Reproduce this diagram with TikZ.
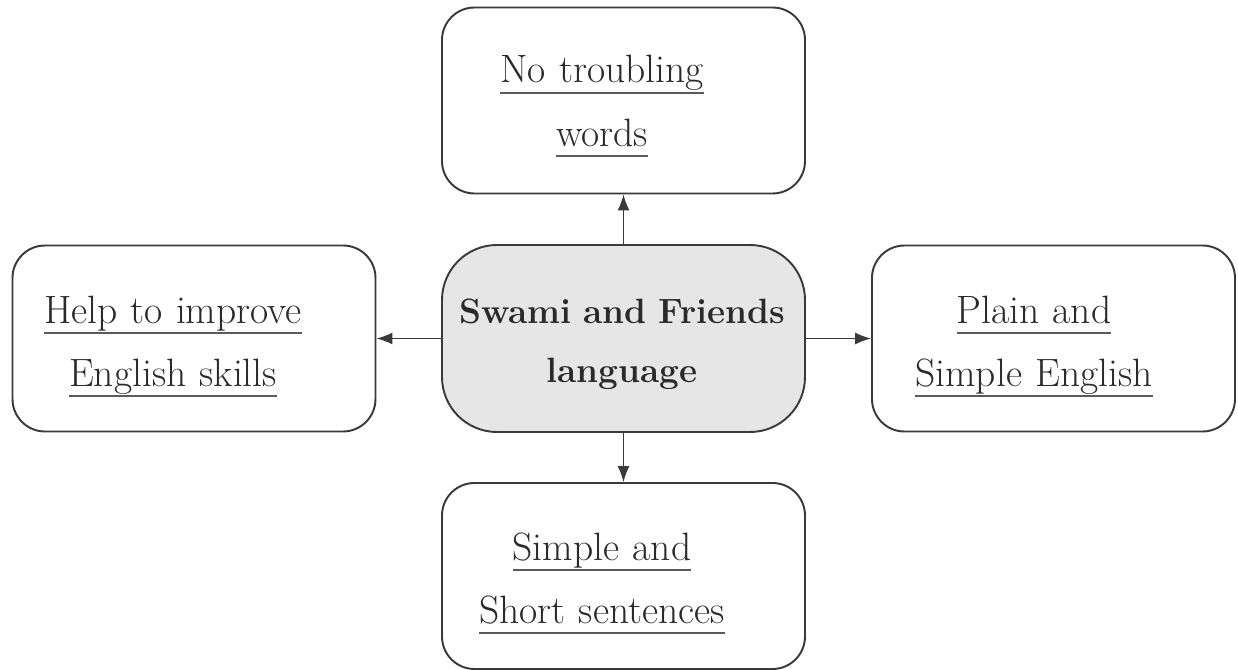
\documentclass[tikz,border=0pt]{standalone}
\usetikzlibrary{arrows.meta}
\definecolor{linec}{HTML}{3A3A3A}
\definecolor{textc}{HTML}{2A2A2A}
\definecolor{ulc}{HTML}{5A5A5A}
\definecolor{fillc}{HTML}{E6E6E6}
\newcommand\ulx[1]{\leavevmode\setbox0=\hbox{#1}\rlap{\color{ulc}\rule[-6.3pt]{\wd0}{1.4pt}}\box0}
\tikzset{
  outbox/.style={draw=linec, line width=1.1pt, rounded corners=0.65cm, minimum width=7.26cm, minimum height=3.72cm, inner sep=0pt},
  midbox/.style={draw=linec, line width=1.1pt, fill=fillc, rounded corners=1.1cm, minimum width=7.26cm, minimum height=3.74cm, inner sep=0pt},
  txt/.style={anchor=base, text width=8cm, align=center, inner sep=0pt, text=textc, font=\fontsize{22.5}{35.9}\selectfont},
  midtxt/.style={anchor=base, text width=8cm, align=center, inner sep=0pt, text=textc, font=\fontsize{20}{33.6}\selectfont\bfseries},
  arr/.style={draw=linec, line width=0.8pt, -{Latex[length=3.2mm,width=2.4mm]}}
}
\begin{document}
\begin{tikzpicture}
\useasboundingbox (0,0) rectangle (24.76,-13.4);
\node[outbox] (top) at (12.47,-2.01) {};
\node[outbox] (left) at (3.88,-6.77) {};
\node[midbox] (mid) at (12.47,-6.77) {};
\node[outbox] (right) at (21.07,-6.77) {};
\node[outbox] (bot) at (12.47,-11.52) {};
\node[txt] (ttop) at (12.04,-1.66) {\ulx{No troubling}\\\ulx{words}};
\node[txt] (tleft) at (3.46,-6.46) {\ulx{Help to improve}\\\ulx{English skills}};
\node[midtxt] (tmid) at (12.44,-6.46) {Swami and Friends\\language};
\node[txt] (tright) at (20.68,-6.46) {\ulx{Plain and}\\\ulx{Simple English}};
\node[txt] (tbot) at (12.04,-11.20) {\ulx{Simple and}\\\ulx{Short sentences}};
\draw[arr] (mid.north) -- (top.south);
\draw[arr] (mid.west) -- (left.east);
\draw[arr] (mid.east) -- (right.west);
\draw[arr] (mid.south) -- (bot.north);
\end{tikzpicture}
\end{document}
